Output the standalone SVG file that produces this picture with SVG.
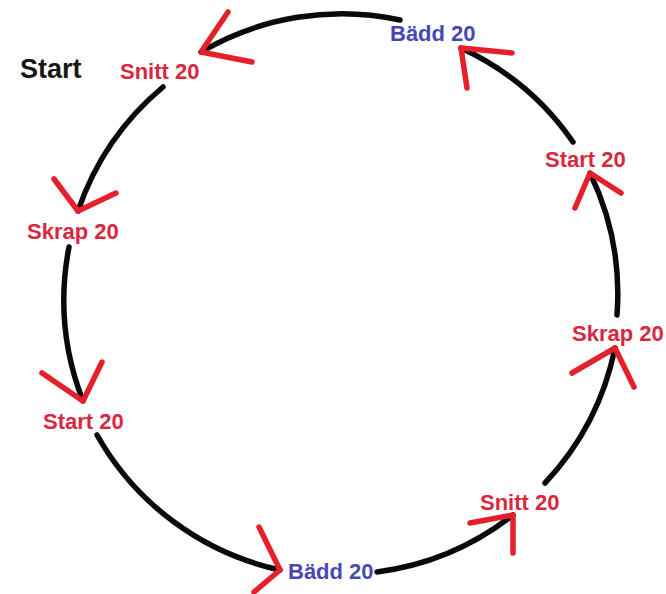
<svg xmlns="http://www.w3.org/2000/svg" width="666" height="594" viewBox="0 0 666 594">
<style>
.arc{fill:none;stroke:#0a0a0a;stroke-width:5.5;stroke-linecap:round}
.head{fill:none;stroke:#e3202b;stroke-width:5.5;stroke-linecap:round;stroke-linejoin:round}
.lbl{font-family:"Liberation Sans",Arial,sans-serif;font-weight:bold;font-size:22px}
.red{fill:#d8283f}
.blue{fill:#4848b4}
.title{font-family:"Liberation Sans",Arial,sans-serif;font-weight:bold;font-size:27px;fill:#161616}
</style>
<rect width="666" height="594" fill="#ffffff"/>
<g id="connectors">
<path class="arc" d="M400,20 A278,278 0 0 0 201,52"/>
<path class="arc" d="M163,87 A278,278 0 0 0 78,211"/>
<path class="arc" d="M69,247 A278,278 0 0 0 83,401"/>
<path class="arc" d="M97,435 A278,278 0 0 0 280,570"/>
<path class="arc" d="M377,572 A278,278 0 0 0 513,515"/>
<path class="arc" d="M545,483 A278,278 0 0 0 615,348"/>
<path class="arc" d="M617,315 A278,278 0 0 0 590,173"/>
<path class="arc" d="M573,142 A278,278 0 0 0 461,48"/>
<path class="head" d="M228,12 L201,52 L252,62"/>
<path class="head" d="M54,179 L78,211 L116,193"/>
<path class="head" d="M42,373 L83,401 L102,362"/>
<path class="head" d="M259,527 L280,570 L254,592"/>
<path class="head" d="M470,523 L513,515 L513,553"/>
<path class="head" d="M572,373 L615,348 L634,387"/>
<path class="head" d="M575,208 L590,173 L621,193"/>
<path class="head" d="M467,88 L461,48 L512,53"/>
</g>
<g id="start"><text class="title" x="20" y="78">Start</text></g>
<g id="snitt-top"><text class="lbl red" x="120" y="79">Snitt 20</text></g>
<g id="skrap-left"><text class="lbl red" x="27" y="239">Skrap 20</text></g>
<g id="start-left"><text class="lbl red" x="43" y="429">Start 20</text></g>
<g id="badd-bottom"><text class="lbl blue" x="288" y="579">Bädd 20</text></g>
<g id="snitt-bottom"><text class="lbl red" x="480" y="510">Snitt 20</text></g>
<g id="skrap-right"><text class="lbl red" x="572" y="341">Skrap 20</text></g>
<g id="start-right"><text class="lbl red" x="545" y="167">Start 20</text></g>
<g id="badd-top"><text class="lbl blue" x="390" y="41">Bädd 20</text></g>
</svg>
